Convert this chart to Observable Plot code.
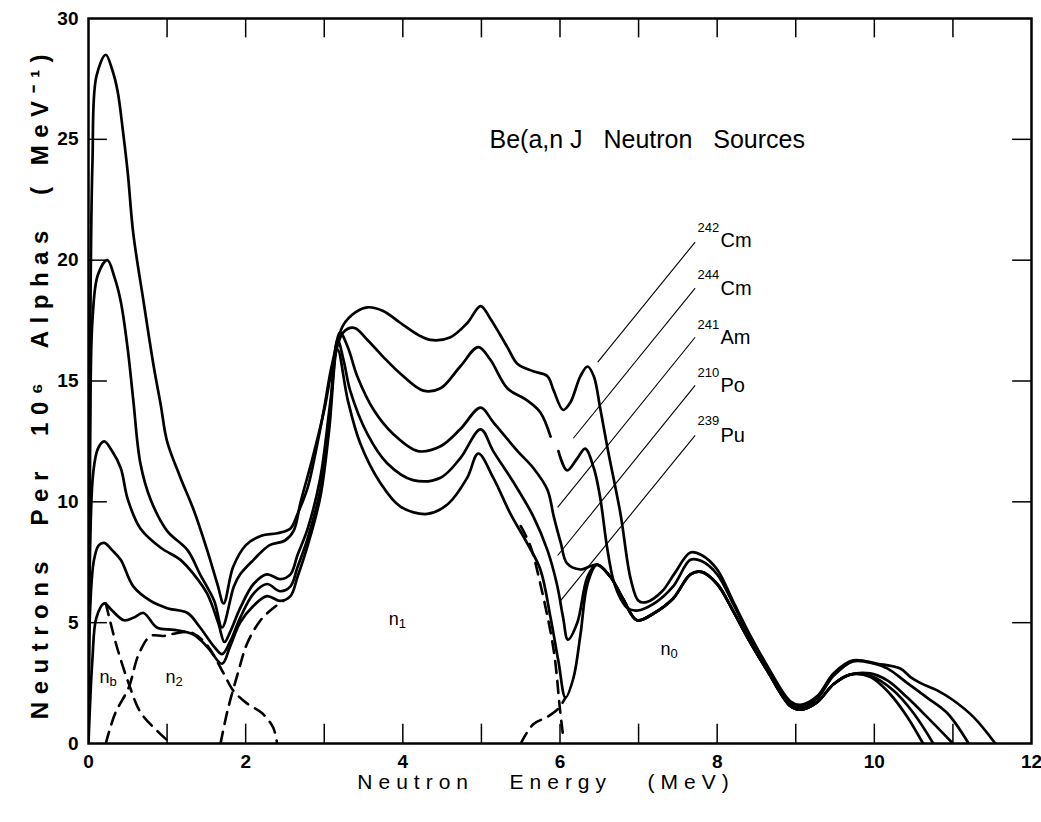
<!DOCTYPE html>
<html><head><meta charset="utf-8">
<script src="https://cdn.jsdelivr.net/npm/d3@7"></script>
<script src="https://cdn.jsdelivr.net/npm/@observablehq/plot@0.6"></script>
<style>body{margin:0;background:#fff} svg text{white-space:pre}</style>
</head><body><div id="chart"></div>
<script>
// ---- axes / labels ----
const energyTicks = [0, 2, 4, 6, 8, 10, 12];
const energyMinor = [1, 2, 3, 4, 5, 6, 7, 8, 9, 10, 11];
const countTicks = [0, 5, 10, 15, 20, 25, 30];
const countMinor = [5, 10, 15, 20, 25];
const titleText = "Be(a,n J   Neutron   Sources";
const xLabel = "Neutron   Energy   (MeV)";
const yLabel = "Neutrons  Per  10\u2076  Alphas  ( MeV\u207B\u00B9)";

// ---- spectra [energy MeV, neutrons per 1e6 alphas per MeV] ----
const cm242 = [[0,0],[0.02,16],[0.05,24],[0.1,27.6],[0.22,28.5],[0.3,27.9],[0.37,27.0],[0.44,25.3],[0.5,23.6],[0.57,21.1],[0.7,18.3],[0.83,15.6],[0.92,14.0],[1.0,12.5],[1.17,11.0],[1.34,9.65],[1.51,8.0],[1.64,6.6],[1.72,5.8],[1.84,7.3],[2.0,8.2],[2.2,8.6],[2.4,8.7],[2.57,8.9],[2.66,9.5],[2.79,10.6],[2.9,12.2],[3.0,13.9],[3.1,15.7],[3.24,17.3],[3.4,17.85],[3.55,18.05],[3.75,17.9],[3.97,17.4],[4.2,16.9],[4.35,16.7],[4.6,16.8],[4.82,17.4],[4.99,18.1],[5.11,17.6],[5.33,16.4],[5.46,15.7],[5.66,15.4],[5.84,15.2],[5.92,14.6],[6.04,13.8],[6.13,14.1],[6.26,15.2],[6.35,15.6],[6.43,15.2],[6.51,13.9],[6.6,12.3],[6.77,9.5],[6.9,6.8],[7.0,5.9],[7.1,5.85],[7.3,6.3],[7.45,7.0],[7.66,7.9],[7.8,7.8],[8.0,7.2],[8.2,5.9],[8.4,4.6],[8.64,3.2],[8.93,1.75],[9.06,1.6],[9.27,1.95],[9.48,2.9],[9.73,3.44],[10.04,3.3],[10.33,3.1],[10.46,2.75],[10.59,2.5],[10.8,2.2],[11.0,1.8],[11.26,1.1],[11.54,0]];
const cm244 = [[0,0],[0.02,12],[0.05,17.5],[0.12,19.4],[0.24,20.0],[0.33,19.3],[0.41,18.3],[0.5,16.3],[0.57,14.2],[0.66,11.6],[0.79,10.1],[1.0,8.8],[1.26,8.0],[1.42,7.0],[1.6,5.9],[1.7,4.8],[1.85,6.5],[1.93,7.0],[2.1,7.6],[2.3,8.2],[2.5,8.4],[2.61,8.8],[2.7,10.0],[2.85,11.8],[3.0,13.8],[3.1,15.5],[3.24,17.0],[3.38,17.2],[3.55,16.7],[3.75,16.0],[3.97,15.3],[4.26,14.6],[4.48,14.7],[4.73,15.6],[4.96,16.4],[5.11,15.9],[5.33,14.7],[5.58,14.2],[5.75,13.7],[5.88,12.7],[5.93,NaN],[5.98,12.1],[6.09,11.3],[6.22,11.8],[6.32,12.2],[6.43,11.4],[6.51,10.2],[6.6,8.1],[6.68,6.75],[6.77,6.0],[6.86,5.6],[6.98,5.5],[7.2,5.8],[7.44,6.5],[7.66,7.6],[7.8,7.55],[8.0,7.0],[8.2,5.8],[8.4,4.5],[8.64,3.1],[8.93,1.65],[9.06,1.5],[9.27,1.85],[9.48,2.8],[9.73,3.4],[10.0,3.3],[10.17,3.1],[10.42,2.5],[10.67,1.9],[10.93,1.25],[11.2,0]];
const am241 = [[0,0],[0.02,8],[0.06,11.2],[0.12,12.2],[0.2,12.5],[0.3,12.1],[0.41,11.4],[0.5,10.1],[0.66,8.9],[0.92,8.1],[1.17,7.6],[1.34,7.0],[1.51,6.2],[1.65,5.0],[1.73,4.2],[1.8,4.6],[1.93,5.6],[2.1,6.6],[2.27,7.0],[2.44,6.8],[2.57,7.0],[2.66,7.8],[2.79,8.9],[2.95,11.0],[3.08,14.2],[3.2,17.0],[3.3,16.4],[3.42,15.2],[3.63,13.8],[3.88,12.8],[4.19,12.1],[4.48,12.3],[4.73,13.0],[4.99,13.9],[5.15,13.3],[5.46,12.1],[5.66,11.4],[5.84,10.5],[5.92,9.4],[6.01,8.3],[6.09,7.45],[6.26,7.2],[6.47,7.4],[6.64,6.9],[6.8,6.0],[6.98,5.1],[7.2,5.4],[7.44,6.0],[7.66,7.0],[7.8,7.1],[8.0,6.6],[8.2,5.5],[8.4,4.3],[8.64,3.0],[8.93,1.55],[9.06,1.4],[9.27,1.7],[9.48,2.45],[9.69,2.85],[9.95,2.9],[10.17,2.6],[10.42,1.9],[10.67,1.1],[11.0,0]];
const po210 = [[0,0],[0.02,5.5],[0.07,7.6],[0.13,8.2],[0.2,8.3],[0.3,8.0],[0.41,7.6],[0.57,6.5],[0.79,5.9],[1.0,5.6],[1.26,5.4],[1.42,4.8],[1.6,4.0],[1.7,3.7],[1.8,4.2],[1.93,5.2],[2.1,6.2],[2.27,6.6],[2.44,6.3],[2.57,6.5],[2.66,7.3],[2.79,8.5],[2.95,10.5],[3.06,13.2],[3.17,16.7],[3.25,15.8],[3.33,14.6],[3.55,12.8],[3.8,11.6],[4.13,10.9],[4.48,11.0],[4.73,11.8],[4.99,13.0],[5.15,12.1],[5.41,10.8],[5.66,9.4],[5.84,8.0],[5.96,6.6],[6.04,5.2],[6.1,4.3],[6.22,5.0],[6.35,6.9],[6.47,7.4],[6.64,6.9],[6.8,6.0],[6.98,5.1],[7.2,5.4],[7.44,6.0],[7.66,7.0],[7.8,7.1],[8.0,6.6],[8.2,5.5],[8.4,4.3],[8.64,3.0],[8.93,1.55],[9.06,1.4],[9.27,1.7],[9.48,2.45],[9.69,2.85],[9.95,2.8],[10.24,2.2],[10.5,1.25],[10.75,0]];
const pu239 = [[0,0],[0.05,3.5],[0.1,5.2],[0.2,5.8],[0.3,5.5],[0.45,5.1],[0.57,5.2],[0.7,5.4],[0.87,4.8],[1.09,4.7],[1.34,4.5],[1.51,4.0],[1.7,3.3],[1.8,4.0],[1.93,5.0],[2.1,5.7],[2.27,6.1],[2.44,5.9],[2.57,6.1],[2.66,6.9],[2.79,8.2],[2.95,10.2],[3.06,12.9],[3.17,16.3],[3.3,14.2],[3.46,12.4],[3.71,10.8],[3.97,9.8],[4.31,9.5],[4.57,9.9],[4.82,11.0],[4.96,12.0],[5.15,11.0],[5.37,9.5],[5.58,8.3],[5.75,7.2],[5.88,5.2],[5.98,3.4],[6.07,1.9],[6.17,2.7],[6.26,4.5],[6.35,6.6],[6.47,7.4],[6.64,6.9],[6.8,6.0],[6.98,5.1],[7.2,5.4],[7.44,6.0],[7.66,7.0],[7.8,7.1],[8.0,6.6],[8.2,5.5],[8.4,4.3],[8.64,3.0],[8.93,1.55],[9.06,1.4],[9.27,1.7],[9.48,2.45],[9.69,2.85],[9.95,2.75],[10.2,2.05],[10.42,1.1],[10.62,0]];

// ---- dashed components ----
const nb = [[0.22,5.8],[0.28,5.0],[0.37,3.9],[0.51,2.5],[0.66,1.3],[0.88,0.5],[1.05,0]];
const n2 = [[0.22,0],[0.34,1.25],[0.51,2.3],[0.64,3.7],[0.79,4.45],[0.95,4.45],[1.1,4.55],[1.3,4.6],[1.5,4.1],[1.72,2.9],[1.84,2.2],[2.02,1.65],[2.21,1.25],[2.35,0.66],[2.4,0]];
const n1Rise = [[1.68,0],[1.77,1.37],[1.9,2.9],[2.02,4.15],[2.19,5.1],[2.35,5.6],[2.48,5.9]];
const n1Fall = [[5.5,9.0],[5.62,8.2],[5.75,6.6],[5.92,3.85],[6.0,1.4],[6.04,0.3]];
const n0Rise = [[5.5,0],[5.66,0.8],[5.84,1.1],[5.98,1.45],[6.07,1.9]];

// ---- source labels ----
const sourceNames = ["242Cm", "244Cm", "241Am", "210Po", "239Pu"];
const massNumbers = ["242", "244", "241", "210", "239"];
const elements = ["Cm", "Cm", "Am", "Po", "Pu"];
const labelE = [7.75, 7.75, 7.75, 7.75, 7.75];
const massY = [21.33, 19.38, 17.31, 15.32, 13.37];
const elemY = [20.79, 18.84, 16.81, 14.82, 12.75];
const leaderStart = [[7.72,20.75],[7.72,18.84],[7.72,16.81],[7.72,14.82],[7.72,12.75]];
const leaderEnd = [[6.48,15.78],[6.17,12.63],[5.97,9.77],[5.97,7.78],[6.0,5.88]];

const compLetters = ["n", "n", "n", "n"];
const compSubs = ["b", "2", "1", "0"];
const compE = [0.14, 0.98, 3.82, 7.28];
const compY = [2.75, 2.75, 5.15, 3.9];

const spectra = [cm242, cm244, am241, po210, pu239];
const curveRows = spectra.flatMap((s, i) => s.map(([E, Y]) => ({src: sourceNames[i], E, Y})));
const dashNames = ["nb", "n2", "n1a", "n1b", "n0"];
const dashRows = [nb, n2, n1Rise, n1Fall, n0Rise].flatMap((s, i) => s.map(([E, Y]) => ({src: dashNames[i], E, Y})));
const idx5 = d3.range(5);
const idx4 = d3.range(4);
const tickLenY = 0.8, tickLenX = 0.24;

const chart = Plot.plot({
  width: 1041, height: 822,
  marginLeft: 88, marginRight: 10, marginTop: 18, marginBottom: 79,
  x: {domain: [0, 12]},
  y: {domain: [0, 30]},
  style: {fontFamily: "'Liberation Sans', Arial, sans-serif", background: "#fff", color: "#000"},
  marks: [
    Plot.axisX({ticks: energyTicks, tickSize: 0, tickPadding: 11, fontSize: 19, fontWeight: "bold", label: null}),
    Plot.axisY({ticks: countTicks, tickSize: 0, tickPadding: 10, fontSize: 19, fontWeight: "bold", label: null}),
    Plot.ruleX(energyMinor, {y1: 0, y2: tickLenY, strokeWidth: 1.5}),
    Plot.ruleX(energyMinor, {y1: 30, y2: 30 - tickLenY, strokeWidth: 1.5}),
    Plot.ruleY(countMinor, {x1: 0, x2: tickLenX, strokeWidth: 1.5}),
    Plot.ruleY(countMinor, {x1: 12, x2: 12 - tickLenX, strokeWidth: 1.5}),
    Plot.line(dashRows, {x: "E", y: "Y", z: "src", curve: "catmull-rom", stroke: "#000", strokeWidth: 2.6, strokeDasharray: "12,8", clip: true}),
    Plot.line(curveRows, {x: "E", y: "Y", z: "src", curve: "catmull-rom", stroke: "#000", strokeWidth: 2.7, clip: true}),
    Plot.link(idx5, {x1: i => leaderStart[i][0], y1: i => leaderStart[i][1], x2: i => leaderEnd[i][0], y2: i => leaderEnd[i][1], stroke: "#000", strokeWidth: 1.1}),
    Plot.text(idx5, {x: i => labelE[i], y: i => massY[i], text: i => massNumbers[i], textAnchor: "start", fontSize: 13, fill: "#000"}),
    Plot.text(idx5, {x: i => labelE[i], y: i => elemY[i], text: i => elements[i], textAnchor: "start", dx: 23, fontSize: 20, fill: "#000"}),
    Plot.text(idx4, {x: i => compE[i], y: i => compY[i], text: i => compLetters[i], textAnchor: "start", fontSize: 18, fill: "#000"}),
    Plot.text(idx4, {x: i => compE[i], y: i => compY[i], text: i => compSubs[i], textAnchor: "start", dx: 10, dy: 5, fontSize: 13, fill: "#000"}),
    Plot.text([titleText], {x: 7.11, y: 24.97, fontSize: 25, textAnchor: "middle", fill: "#000"}),
    Plot.text([xLabel], {frameAnchor: "bottom", textAnchor: "middle", lineAnchor: "middle", dx: -14, dy: 39, fontSize: 21, fill: "#000"}),
    Plot.text([yLabel], {frameAnchor: "left", textAnchor: "middle", lineAnchor: "middle", dx: -48, dy: 2, rotate: -90, fontSize: 24, fontWeight: "bold", fill: "#000"}),
    Plot.frame({stroke: "#000", strokeWidth: 2.5})
  ]
});
const allText = d3.select(chart).selectAll("text");
allText.filter(function() { return this.textContent === xLabel; }).attr("letter-spacing", "6px");
allText.filter(function() { return this.textContent === yLabel; }).attr("letter-spacing", "7.5px");
document.getElementById("chart").appendChild(chart);
</script></body></html>
